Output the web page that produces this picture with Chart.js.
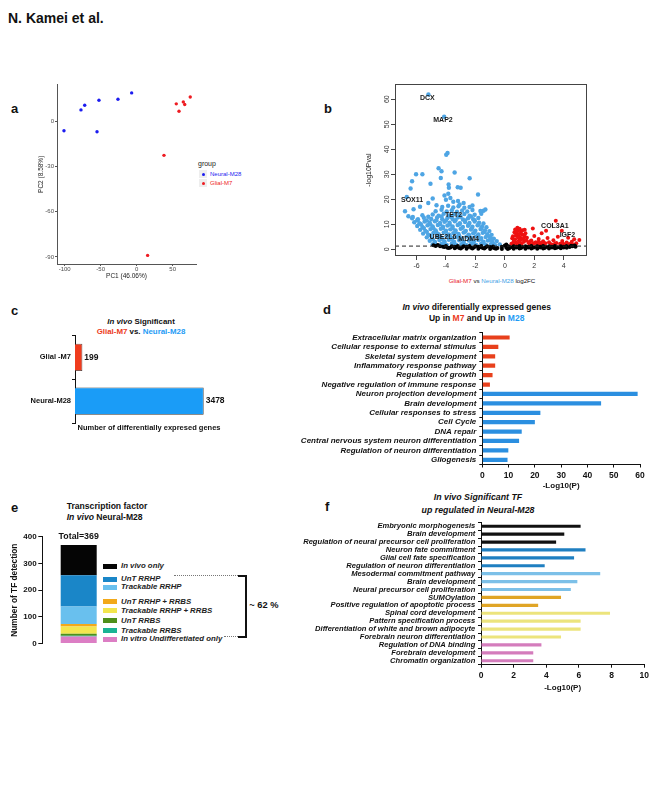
<!DOCTYPE html>
<html>
<head>
<meta charset="utf-8">
<title>Kamei et al. figure</title>
<script src="https://cdn.jsdelivr.net/npm/chart.js@4.4.1/dist/chart.umd.min.js"></script>
<style>
  body { margin: 0; width: 669px; height: 787px; background: #fff; position: relative; overflow: hidden;
         font-family: "Liberation Sans", Arial, Helvetica, sans-serif; color: #111; }
  canvas { position: absolute; }
  .t { position: absolute; white-space: nowrap; line-height: 1; font-weight: bold; }
  .c { transform: translate(-50%, -50%); }
  .l { transform: translateY(-50%); }
  .i { font-style: italic; }
  .red { color: #ec3b1c; }
  .blue { color: #1e9bf5; }
</style>
</head>
<body>
<div class="t l" style="left:8px;top:18px;font-size:14px">N. Kamei et al.</div>

<div class="t l" style="left:11px;top:108px;font-size:13px">a</div>
<div class="t l" style="left:324px;top:108px;font-size:13px">b</div>
<div class="t l" style="left:11px;top:310px;font-size:13px">c</div>
<div class="t l" style="left:323px;top:309px;font-size:13px">d</div>
<div class="t l" style="left:11px;top:507px;font-size:13px">e</div>
<div class="t l" style="left:325px;top:506px;font-size:13px">f</div>

<!-- a legend -->
<div class="t l" style="left:198px;top:163px;font-size:7px;font-weight:normal;color:#222">group</div>
<div id="pcaLegend"></div>

<!-- b axis title -->
<div class="t c" style="left:492px;top:281px;font-size:6.2px;font-weight:normal">
  <span style="color:#e8141c">Glial-M7</span> vs <span style="color:#3f9fe6">Neural-M28</span> log2FC</div>

<!-- c title -->
<div class="t c" style="left:141px;top:321.7px;font-size:7.9px"><span class="i">In vivo</span> Significant</div>
<div class="t c" style="left:141px;top:331.7px;font-size:7.9px"><span class="red">Glial-M7</span> vs. <span class="blue">Neural-M28</span></div>

<!-- d title -->
<div class="t c" style="left:476.7px;top:307.3px;font-size:8.5px"><span class="i">In vivo</span> diferentially expressed genes</div>
<div class="t c" style="left:476.7px;top:318.3px;font-size:8.5px">Up in <span class="red">M7</span> and Up in <span class="blue">M28</span></div>

<!-- e title, legend, bracket -->
<div class="t l" style="left:66.7px;top:506px;font-size:8.6px">Transcription factor</div>
<div class="t l" style="left:66.7px;top:516.5px;font-size:8.6px"><span class="i">In vivo</span> Neural-M28</div>
<div id="tfLegend"></div>
<div style="position:absolute;left:174px;top:575px;width:64px;border-top:1px dotted #777"></div>
<div style="position:absolute;left:224px;top:635.5px;width:14px;border-top:1px dotted #777"></div>
<div style="position:absolute;left:238.3px;top:574.5px;width:6.5px;height:59px;border:2px solid #111;border-left:none"></div>
<div id="tfShare" class="t l" style="left:249.3px;top:605.7px;font-size:9.3px"></div>

<!-- f title -->
<div class="t c i" style="left:478px;top:497px;font-size:8.8px">In vivo Significant TF</div>
<div class="t c i" style="left:478px;top:510px;font-size:8.8px">up regulated in Neural-M28</div>

<canvas id="pca" width="170" height="205" style="left:30px;top:80px"></canvas>
<canvas id="volcano" width="240" height="210" style="left:360px;top:80px"></canvas>
<canvas id="degCount" width="215" height="105" style="left:20px;top:330px"></canvas>
<canvas id="goDe" width="370" height="170" style="left:290px;top:325px"></canvas>
<canvas id="tfStack" width="120" height="125" style="left:0px;top:525px"></canvas>
<canvas id="goTf" width="370" height="180" style="left:290px;top:515px"></canvas>

<script>
// ---------- data ----------
// a: PCA
const pcaGroups = ['Neural-M28', 'Glial-M7'];
const pcaNeuralX = [-101, -77.4, -72.2, -52.4, -55.1, -26, -7];
const pcaNeuralY = [-6.2, 7.7, 10.8, 14.1, -6.8, 14.8, 19];
const pcaGlialX = [55, 58.8, 64.8, 66.7, 74.4, 37.9, 15.2];
const pcaGlialY = [11.7, 6.8, 13, 11.3, 16.3, -22.5, -89];
const pcaXTicks = [-100, -50, 0, 50];
const pcaYTicks = [-90, -60, -30, 0];

// b: volcano (log2FC, -log10 p)
const volcanoNeural = [
  [-4.9,2.0],[-4.6,1.7],[-4.3,2.2],[-3.95,1.8],[-3.6,2.3],[-3.3,1.9],[-2.95,2.1],[-2.6,1.7],[-2.3,2.2],[-1.95,1.8],[-1.6,2.3],[-1.3,1.9],[-0.95,2.1],[-0.65,1.7],[-0.35,2.0],
  [-5.1,3.4],[-4.75,3.0],[-4.45,3.7],[-4.1,3.2],[-3.8,3.8],[-3.45,3.1],[-3.1,3.6],[-2.8,3.0],[-2.45,3.5],[-2.1,3.2],[-1.8,3.7],[-1.45,3.1],[-1.15,3.5],[-0.85,3.0],[-0.55,3.3],
  [-5.3,4.8],[-4.95,4.4],[-4.6,5.1],[-4.3,4.6],[-3.95,5.2],[-3.6,4.5],[-3.3,4.9],[-2.95,4.4],[-2.6,5.1],[-2.3,4.7],[-1.95,5.2],[-1.6,4.5],[-1.3,4.9],[-1.0,4.6],[-0.75,4.3],
  [-5.55,6.3],[-5.2,5.9],[-4.85,6.6],[-4.5,6.1],[-4.15,6.7],[-3.8,6.0],[-3.5,6.5],[-3.15,6.2],[-2.8,6.7],[-2.45,5.9],[-2.15,6.4],[-1.8,6.0],[-1.5,6.6],[-1.2,6.1],[-0.9,5.8],
  [-5.75,7.8],[-5.4,7.4],[-5.05,8.1],[-4.7,7.6],[-4.35,8.2],[-4.0,7.5],[-3.7,8.0],[-3.35,7.6],[-3.0,8.2],[-2.65,7.4],[-2.3,7.9],[-2.0,7.5],[-1.65,8.1],[-1.35,7.6],[-1.05,7.3],
  [-5.95,9.3],[-5.6,8.9],[-5.25,9.6],[-4.9,9.1],[-4.55,9.7],[-4.2,9.0],[-3.9,9.5],[-3.55,9.1],[-3.2,9.7],[-2.85,8.9],[-2.5,9.4],[-2.2,9.0],[-1.85,9.6],[-1.55,9.1],[-1.25,8.8],
  [-6.15,10.8],[-5.8,10.4],[-5.45,11.1],[-5.1,10.6],[-4.75,11.2],[-4.4,10.5],[-4.1,11.0],[-3.75,10.6],[-3.4,11.2],[-3.05,10.4],[-2.7,10.9],[-2.4,10.5],[-2.05,11.1],[-1.75,10.6],[-1.45,10.3],
  [-6.3,12.4],[-5.9,12.0],[-5.5,12.6],[-5.0,12.1],[-4.6,12.7],[-4.25,12.0],[-3.9,12.5],[-3.55,12.1],[-3.2,12.7],[-2.85,11.9],[-2.5,12.4],[-2.15,12.0],[-1.8,12.5],
  [-5.6,13.6],[-4.9,13.9],[-4.5,13.4],[-4.15,14.2],[-3.8,13.5],[-3.45,14.0],[-3.1,13.6],[-2.75,14.1],[-2.4,13.4],[-2.05,13.8],[-1.6,14.2],
  [-4.7,15.2],[-4.3,15.8],[-3.95,15.1],[-3.6,15.6],[-3.25,15.0],[-2.9,15.5],[-2.55,15.1],[-2.2,15.7],[-1.45,15.4],
  [-4.25,16.9],[-3.85,17.4],[-3.5,16.7],[-3.15,17.2],[-2.75,16.6],[-2.4,16.9],
  [-4.75,2.6],[-4.1,2.5],[-3.45,2.6],[-2.8,2.5],[-2.15,2.6],[-1.45,2.5],[-0.8,2.4],
  [-4.9,4.0],[-4.25,4.0],[-3.6,3.9],[-2.95,4.0],[-2.3,3.9],[-1.65,4.0],[-1.0,3.8],
  [-5.05,5.6],[-4.4,5.4],[-3.75,5.6],[-3.1,5.5],[-2.45,5.6],[-1.8,5.4],[-1.15,5.5],
  [-5.3,7.0],[-4.65,6.9],[-4.0,7.0],[-3.35,6.9],[-2.7,7.0],[-2.05,6.9],[-1.4,7.0],
  [-5.5,8.5],[-4.85,8.4],[-4.2,8.5],[-3.55,8.4],[-2.9,8.5],[-2.25,8.4],[-1.6,8.3],
  [-5.7,10.0],[-5.05,9.9],[-4.4,10.0],[-3.75,9.9],[-3.1,10.0],[-2.45,9.9],[-1.8,9.8],
  [-5.95,11.6],[-5.3,11.5],[-4.65,11.6],[-4.0,11.5],[-3.35,11.6],[-2.7,11.5],[-2.05,11.6],
  [-5.2,13.0],[-4.3,13.1],[-3.65,12.9],[-3.0,13.0],[-2.3,13.1],
  [-5.19,61.9],[-4.12,53],[-3.89,38.5],[-3.98,37.8],[-4.5,32.4],[-4.3,31.2],[-3.41,30.7],[-6.03,30],[-5.6,30],[-2.39,28.4],
  [-4.35,28.5],[-6.3,27.2],[-6.4,24.3],[-5.05,26.2],[-3.82,25.9],[-3.8,24.6],[-3.2,24.8],[-3.0,24.6],[-3.84,22.2],[-1.82,21.9],
  [-6.66,20.9],[-3.7,20.5],[-3.18,19.3],[-3.07,17.9],[-6.78,15.2],[-5.76,17],[-4.64,17.6],[-1.32,15.9],[-1.66,15.3],[-6.25,12.9],
  [-6.55,13.2],[-4.0,19.8],[-4.1,21.5],[-3.5,19.0],[-2.8,18.5],[-2.2,17.5],[-5.2,18.5],[-6.2,16.0],[-4.9,20.3]
];
const volcanoGlial = [
  [0.45,2.2],[0.6,3.1],[0.7,4.0],[0.55,5.2],[0.8,6.3],[0.9,7.4],[1.0,8.2],[0.85,8.6],[1.1,7.0],[1.2,5.8],
  [1.05,4.6],[0.95,3.4],[0.75,2.6],[1.3,3.0],[1.25,4.2],[0.65,6.8],[0.5,4.4],[0.95,5.3],[1.15,2.3],[1.4,6.4],
  [1.5,4.6],[1.6,2.6],[0.85,2.1],[1.35,7.8],[0.7,7.9],[1.0,6.1],[0.6,2.0],
  [0.75,5.6],[0.9,4.8],[1.1,3.8],[1.2,7.6],[0.65,3.6],[1.35,5.2],[1.0,2.9],[0.8,7.0],[1.45,3.6],
  [1.8,3.5],[1.9,2.2],[2.0,5.3],[2.1,2.8],[2.3,4.1],[2.4,2.1],[2.5,6.4],[2.6,3.2],[2.75,2.4],[2.8,7.4],[2.9,4.5],
  [3.0,2.8],[3.15,2.0],[3.3,3.6],[3.46,11.4],[3.5,2.5],[3.6,5.0],[3.75,2.2],[3.87,7.4],[3.9,3.3],[4.05,2.0],
  [4.2,2.7],[4.3,4.6],[4.4,2.1],[4.55,3.0],[4.71,4.0],[4.85,2.4],[5.06,3.7],[1.9,8.3],[2.2,1.8],[3.2,1.7],
  [4.0,1.8],[1.7,1.9],[2.6,1.9],[4.6,1.8],[2.0,2.5],[2.5,2.6],[3.4,2.2],[3.9,2.5],[1.7,3.1],[2.3,3.0]
];
const volcanoNotSig = [
  [-3.0,0.3],[-2.6,0.2],[-2.2,0.35],[-1.8,0.25],[-1.4,0.3],[-1.0,0.15],[-0.6,0.2],[-0.2,0.1],[0.2,0.15],[0.6,0.2],
  [1.0,0.3],[1.4,0.25],[1.8,0.3],[2.2,0.2],[2.6,0.35],[3.0,0.3],[3.4,0.4],[3.8,0.45],[-3.4,0.45],[-3.8,0.5],
  [-4.1,0.9],[-3.7,0.7],[-3.3,0.85],[-2.9,0.75],[-2.5,0.9],[-2.1,0.7],[-1.7,0.85],[-1.3,0.75],[-0.9,0.6],[-0.5,0.5],
  [0.1,0.6],[0.4,0.8],[0.8,0.75],[1.2,0.9],[1.6,0.7],[2.0,0.85],[2.4,0.75],[2.8,0.9],[3.2,0.7],[3.6,0.8],[4.0,0.75],[4.4,0.9],
  [-3.9,0.6],[-3.1,0.55],[-2.3,0.6],[-1.5,0.55],[-0.7,0.4],[0.3,0.45],[1.1,0.55],[1.9,0.6],[2.7,0.55],[3.5,0.6],[4.2,0.6],
  [-4.7,1.3],[-4.4,1.2],[-4.0,1.35],[-3.6,1.2],[-3.2,1.3],[-2.8,1.25],[-2.4,1.35],[-2.0,1.2],[-1.6,1.3],[-1.2,1.25],
  [-0.8,1.1],[-0.2,1.0],[0.0,1.5],[0.1,1.9],[0.25,1.2],[0.6,1.25],[1.0,1.3],[1.4,1.2],[1.8,1.35],[2.2,1.25],
  [2.6,1.3],[3.0,1.2],[3.4,1.35],[3.8,1.25],[4.2,1.3],[4.6,1.2],[4.8,1.0],[4.75,1.5],[-4.85,1.6],[-4.55,1.7],
  [-4.2,1.0],[-3.4,1.05],[-2.6,1.0],[-1.8,1.05],[-1.0,0.95],[0.8,1.05],[1.6,1.0],[2.4,1.05],[3.2,1.0],[4.0,1.05],[4.5,1.4]
];
const geneNames = ['DCX', 'MAP2', 'SOX11', 'TET2', 'UBE2L6', 'MDM4', 'COL3A1', 'IGF2'];
const geneLabelX = [-5.26, -4.2, -6.3, -3.48, -4.2, -2.46, 3.4, 4.25];
const geneLabelY = [60.6, 51.5, 19.6, 13.6, 5.0, 4.0, 9.4, 5.6];
const pThreshold = 1.3;
const volcanoXRange = [-7.46, 5.58];
const volcanoYRange = [-2.66, 66];
const volcanoXTicks = [-6, -4, -2, 0, 2, 4];
const volcanoYTicks = [0, 10, 20, 30, 40, 50, 60];

// c: number of DEGs
const degGroups = ['Glial -M7', 'Neural-M28'];
const degCounts = [199, 3478];

// d: GO terms of DEGs
const goM7Terms = ['Extracellular matrix organization', 'Cellular response to external stimulus',
  'Skeletal system development', 'Inflammatory response pathway', 'Regulation of growth',
  'Negative regulation of immune response'];
const goM7Values = [10.4, 6.1, 4.9, 4.9, 3.9, 2.9];
const goM28Terms = ['Neuron projection development', 'Brain development', 'Cellular responses to stress',
  'Cell Cycle', 'DNA repair', 'Central nervous system neuron differentiation',
  'Regulation of neuron differentiation', 'Gliogenesis'];
const goM28Values = [59.1, 45.2, 22.1, 20.0, 15.0, 14.0, 9.9, 9.6];
const goTicks = [0, 10, 20, 30, 40, 50, 60];

// e: TF classes, stacked bottom -> top
const tfClasses = ['In vitro Undifferetiated only', 'Trackable RRBS', 'UnT RRBS', 'Trackable RRHP + RRBS',
  'UnT RRHP + RRBS', 'Trackable RRHP', 'UnT RRHP', 'In vivo only'];
const tfCounts = [27, 2, 8, 27, 9, 66, 117, 113];
const tfTicks = [0, 100, 200, 300, 400];

// f: GO terms of TFs
const tfGoTerms = ['Embryonic morphogenesis', 'Brain development', 'Regulation of neural precursor cell proliferation',
  'Neuron fate commitment', 'Glial cell fate specification', 'Regulation of neuron differentiation',
  'Mesodermal commitment pathway', 'Brain development', 'Neural precursor cell proliferation',
  'SUMOylation', 'Positive regulation of apoptotic process',
  'Spinal cord development', 'Pattern specification process', 'Differentiation of white and brown adipocyte',
  'Forebrain neuron differentiation',
  'Regulation of DNA binding', 'Forebrain development', 'Chromatin organization'];
const tfGoValues = [6.1, 5.1, 4.6, 6.4, 5.7, 3.9, 7.3, 5.9, 5.5, 4.9, 3.5, 7.9, 6.1, 6.1, 4.9, 3.7, 3.2, 3.2];
const tfGoGroup = [0, 0, 0, 1, 1, 1, 2, 2, 2, 3, 3, 4, 4, 4, 4, 5, 5, 5];
const tfGoTicks = [0, 2, 4, 6, 8, 10];

// ---------- styles ----------
const FONT = '"Liberation Sans", Arial, Helvetica, sans-serif';
const pcaColors = ['#1c1cf0', '#ee1c22'];
const tfColors = ['#dc7ec4', '#1ab394', '#4e8f1a', '#f3e64e', '#f2a91a', '#69c0ee', '#1a86c8', '#050505'];
const tfGoColors = ['#111111', '#1f7fc1', '#7cc0e8', '#e0a526', '#ece47c', '#d47cbc'];

Chart.defaults.font.family = FONT;
Chart.defaults.color = '#111';
Chart.defaults.animation = false;
Chart.defaults.responsive = false;
Chart.defaults.plugins.legend.display = false;
Chart.defaults.plugins.tooltip.enabled = false;

const fixedTicks = list => axis => { axis.ticks = list.map(v => ({ value: v })); };
const fixW = w => axis => { axis.width = w; };
const fixH = h => axis => { axis.height = h; };
const xy = pairs => pairs.map(([x, y]) => ({ x, y }));

// ---------- a: PCA ----------
new Chart(document.getElementById('pca'), {
  type: 'scatter',
  data: {
    datasets: [
      { data: pcaNeuralX.map((x, i) => ({ x, y: pcaNeuralY[i] })), backgroundColor: pcaColors[0], borderWidth: 0, pointRadius: 1.7 },
      { data: pcaGlialX.map((x, i) => ({ x, y: pcaGlialY[i] })), backgroundColor: pcaColors[1], borderWidth: 0, pointRadius: 1.7 }
    ]
  },
  options: {
    layout: { padding: { top: 4, right: 4, left: 0, bottom: 0 } },
    scales: {
      x: {
        min: -110.7, max: 82.4, afterBuildTicks: fixedTicks(pcaXTicks), afterFit: fixH(21),
        grid: { display: true, drawOnChartArea: false, tickLength: 2, color: '#555' },
        border: { color: '#555' },
        ticks: { font: { size: 6 }, color: '#4d4d4d', padding: 0 },
        title: { display: true, text: 'PC1 (46.06%)', font: { size: 6.5 }, color: '#222', padding: { top: 0, bottom: 4.8 } }
      },
      y: {
        min: -94.7, max: 24.5, afterBuildTicks: fixedTicks(pcaYTicks), afterFit: fixW(27),
        grid: { display: true, drawOnChartArea: false, tickLength: 2, color: '#555' },
        border: { color: '#555' },
        ticks: { font: { size: 6 }, color: '#4d4d4d', padding: 1 },
        title: { display: true, text: 'PC2 (8.58%)', font: { size: 6.5 }, color: '#222', padding: { top: 7.8, bottom: 0 } }
      }
    }
  }
});

// legend for a
const pcaLegend = document.getElementById('pcaLegend');
pcaGroups.forEach((name, i) => {
  const top = 174 + i * 9;
  pcaLegend.insertAdjacentHTML('beforeend',
    '<div style="position:absolute;left:199px;top:' + (top - 4) + 'px;width:8px;height:8px;background:#eeeeee">' +
    '<div style="position:absolute;left:2.5px;top:2.5px;width:3.4px;height:3.4px;border-radius:50%;background:' + pcaColors[i] + '"></div></div>' +
    '<div class="t l" style="left:210px;top:' + top + 'px;font-size:6px;font-weight:normal;color:' + pcaColors[i] + '">' + name + '</div>');
});

// ---------- b: volcano ----------
const frame = {
  id: 'frame',
  afterDraw(chart) {
    const { ctx, chartArea: a } = chart;
    ctx.save();
    ctx.strokeStyle = '#444';
    ctx.lineWidth = 1;
    ctx.strokeRect(Math.round(a.left) + 0.5, Math.round(a.top) + 0.5, Math.round(a.width) - 1, Math.round(a.height) - 1);
    ctx.restore();
  }
};
const geneLabels = {
  id: 'geneLabels',
  afterDatasetsDraw(chart) {
    const { ctx, scales: { x, y } } = chart;
    ctx.save();
    ctx.font = 'bold 7px ' + FONT;
    ctx.fillStyle = '#1a1a1a';
    ctx.textAlign = 'center';
    ctx.textBaseline = 'middle';
    geneNames.forEach((g, i) => ctx.fillText(g, x.getPixelForValue(geneLabelX[i]), y.getPixelForValue(geneLabelY[i])));
    ctx.restore();
  }
};
new Chart(document.getElementById('volcano'), {
  type: 'scatter',
  data: {
    datasets: [
      { type: 'line', data: [{ x: volcanoXRange[0], y: pThreshold }, { x: volcanoXRange[1], y: pThreshold }],
        borderColor: '#222', borderWidth: 1, borderDash: [4, 3], pointRadius: 0, order: 0 },
      { data: xy(volcanoNotSig), backgroundColor: '#000', borderWidth: 0, pointRadius: 2, order: 1 },
      { data: xy(volcanoGlial), backgroundColor: '#ee1111', borderWidth: 0, pointRadius: 2, order: 2 },
      { data: xy(volcanoNeural), backgroundColor: '#4ea5e4', borderWidth: 0, pointRadius: 2.2, order: 3 }
    ]
  },
  options: {
    layout: { padding: { top: 4, right: 13, left: 0, bottom: 0 } },
    scales: {
      x: {
        type: 'linear', min: volcanoXRange[0], max: volcanoXRange[1],
        afterBuildTicks: fixedTicks(volcanoXTicks), afterFit: fixH(34),
        grid: { display: true, drawOnChartArea: false, tickLength: 4, color: '#444' },
        border: { display: false },
        ticks: { font: { size: 7 }, color: '#333', padding: 2 }
      },
      y: {
        min: volcanoYRange[0], max: volcanoYRange[1],
        afterBuildTicks: fixedTicks(volcanoYTicks), afterFit: fixW(35),
        grid: { display: true, drawOnChartArea: false, tickLength: 4, color: '#444' },
        border: { display: false },
        ticks: { font: { size: 7 }, color: '#333', padding: 0, minRotation: 90, maxRotation: 90, crossAlign: 'center' },
        title: { display: true, text: '-log10Pval', font: { size: 7 }, color: '#222', padding: { top: 4.8, bottom: 0 } }
      }
    }
  },
  plugins: [frame, geneLabels]
});

// ---------- c: DEG counts ----------
const barValueLabels = {
  id: 'barValueLabels',
  afterDatasetsDraw(chart) {
    const { ctx } = chart;
    ctx.save();
    ctx.font = 'bold 8.5px ' + FONT;
    ctx.fillStyle = '#111';
    ctx.textBaseline = 'middle';
    chart.getDatasetMeta(0).data.forEach((bar, i) => ctx.fillText(String(degCounts[i]), bar.x + 2, bar.y));
    ctx.restore();
  }
};
new Chart(document.getElementById('degCount'), {
  type: 'bar',
  data: {
    labels: degGroups,
    datasets: [{
      data: degCounts, backgroundColor: ['#f03c1e', '#1a9cf7'], borderColor: '#333', borderWidth: 0.8,
      barPercentage: 0.62, categoryPercentage: 1
    }]
  },
  options: {
    indexAxis: 'y',
    layout: { padding: { top: 4, right: 12, left: 0, bottom: 0 } },
    scales: {
      x: {
        min: 0, max: 4000, afterFit: fixH(12),
        grid: { display: false }, border: { display: false }, ticks: { display: false },
        title: { display: true, text: 'Number of differentially expresed genes', font: { size: 7.5, weight: 'bold' },
                 color: '#111', padding: { top: 0, bottom: 2.6 } }
      },
      y: {
        afterFit: fixW(55),
        grid: { display: true, drawOnChartArea: false, tickLength: 3, color: '#111' },
        border: { color: '#111', width: 1 },
        ticks: { font: { size: 7.5, weight: 'bold' }, color: '#111', padding: 1, autoSkip: false }
      }
    }
  },
  plugins: [barValueLabels]
});

// ---------- d: GO terms of DEGs ----------
const goLabels = goM7Terms.concat(goM28Terms);
new Chart(document.getElementById('goDe'), {
  type: 'bar',
  data: {
    labels: goLabels,
    datasets: [{
      data: goM7Values.concat(goM28Values),
      backgroundColor: goLabels.map((_, i) => i < goM7Terms.length ? '#e8401c' : '#2b8fe0'),
      barPercentage: 0.45, categoryPercentage: 1
    }]
  },
  options: {
    indexAxis: 'y',
    layout: { padding: { top: 6, right: 20, left: 0, bottom: 0 } },
    scales: {
      x: {
        min: 0, max: 60, afterBuildTicks: fixedTicks(goTicks), afterFit: fixH(30.5),
        grid: { display: true, drawOnChartArea: false, tickLength: 3, color: '#111' },
        border: { color: '#111', width: 1 },
        ticks: { font: { size: 8.5, weight: 'bold' }, color: '#111', padding: 3 },
        title: { display: true, text: '-Log10(P)', font: { size: 8, weight: 'bold' }, color: '#111', padding: { top: 0, bottom: 4.3 } }
      },
      y: {
        afterFit: fixW(192.3),
        grid: { display: true, drawOnChartArea: false, tickLength: 3, color: '#111' },
        border: { color: '#111', width: 1 },
        ticks: { font: { size: 8, weight: 'bold', style: 'italic' }, color: '#111', padding: 3, autoSkip: false }
      }
    }
  }
});

// ---------- e: TF stacked bar ----------
const tfTotal = tfCounts.reduce((s, v) => s + v, 0);
const stackTotal = {
  id: 'stackTotal',
  afterDatasetsDraw(chart) {
    const { ctx, scales: { x, y } } = chart;
    ctx.save();
    ctx.font = 'bold 8.8px ' + FONT;
    ctx.fillStyle = '#111';
    ctx.textAlign = 'center';
    ctx.textBaseline = 'middle';
    ctx.fillText('Total=' + tfTotal, x.getPixelForValue(0), y.getPixelForValue(tfTotal) - 8.3);
    ctx.restore();
  }
};
new Chart(document.getElementById('tfStack'), {
  type: 'bar',
  data: {
    labels: [''],
    datasets: tfClasses.map((name, i) => ({
      label: name, data: [tfCounts[i]], backgroundColor: tfColors[i], barPercentage: 0.5, categoryPercentage: 1
    }))
  },
  options: {
    layout: { padding: { top: 11.7, right: 5.3, left: 0, bottom: 6 } },
    scales: {
      x: { display: false, stacked: true },
      y: {
        stacked: true, min: 0, max: 400, afterBuildTicks: fixedTicks(tfTicks), afterFit: fixW(42.7),
        grid: { display: true, drawOnChartArea: false, tickLength: 4.4, color: '#111' },
        border: { color: '#111', width: 1 },
        ticks: { font: { size: 8, weight: 'bold' }, color: '#111', padding: 1.6 },
        title: { display: true, text: 'Number of TF detection', font: { size: 8.3, weight: 'bold' }, color: '#111', padding: { top: 10, bottom: 0 } }
      }
    }
  },
  plugins: [stackTotal]
});

// legend + share for e (top -> bottom is the stack reversed)
const eLegendRowY = [566, 579, 587.3, 601.7, 610.7, 620.7, 630.7, 639.3];
const tfLegend = document.getElementById('tfLegend');
tfClasses.slice().reverse().forEach((name, k) => {
  const color = tfColors[tfColors.length - 1 - k];
  const top = eLegendRowY[k];
  tfLegend.insertAdjacentHTML('beforeend',
    '<div style="position:absolute;left:102.7px;top:' + (top - 2.5) + 'px;width:14px;height:5px;background:' + color + '"></div>' +
    '<div class="t l i" style="left:121px;top:' + top + 'px;font-size:7.8px;color:#222">' + name + '</div>');
});
const tfShared = tfTotal - tfCounts[0] - tfCounts[tfCounts.length - 1];
document.getElementById('tfShare').textContent = '~ ' + Math.round(100 * tfShared / tfTotal) + ' %';

// ---------- f: GO terms of TFs ----------
new Chart(document.getElementById('goTf'), {
  type: 'bar',
  data: {
    labels: tfGoTerms,
    datasets: [{
      data: tfGoValues,
      backgroundColor: tfGoGroup.map(g => tfGoColors[g]),
      barPercentage: 0.4, categoryPercentage: 1
    }]
  },
  options: {
    indexAxis: 'y',
    layout: { padding: { top: 7, right: 15.7, left: 0, bottom: 0 } },
    scales: {
      x: {
        min: 0, max: 10, afterBuildTicks: fixedTicks(tfGoTicks), afterFit: fixH(30.3),
        grid: { display: true, drawOnChartArea: false, tickLength: 3, color: '#111' },
        border: { color: '#111', width: 1 },
        ticks: { font: { size: 8.5, weight: 'bold' }, color: '#111', padding: 3 },
        title: { display: true, text: '-Log10(P)', font: { size: 8, weight: 'bold' }, color: '#111', padding: { top: 0, bottom: 2.8 } }
      },
      y: {
        afterFit: fixW(191),
        grid: { display: true, drawOnChartArea: false, tickLength: 3, color: '#111' },
        border: { color: '#111', width: 1 },
        ticks: { font: { size: 7.6, weight: 'bold', style: 'italic' }, color: '#111', padding: 2.7, autoSkip: false }
      }
    }
  }
});
</script>
</body>
</html>
